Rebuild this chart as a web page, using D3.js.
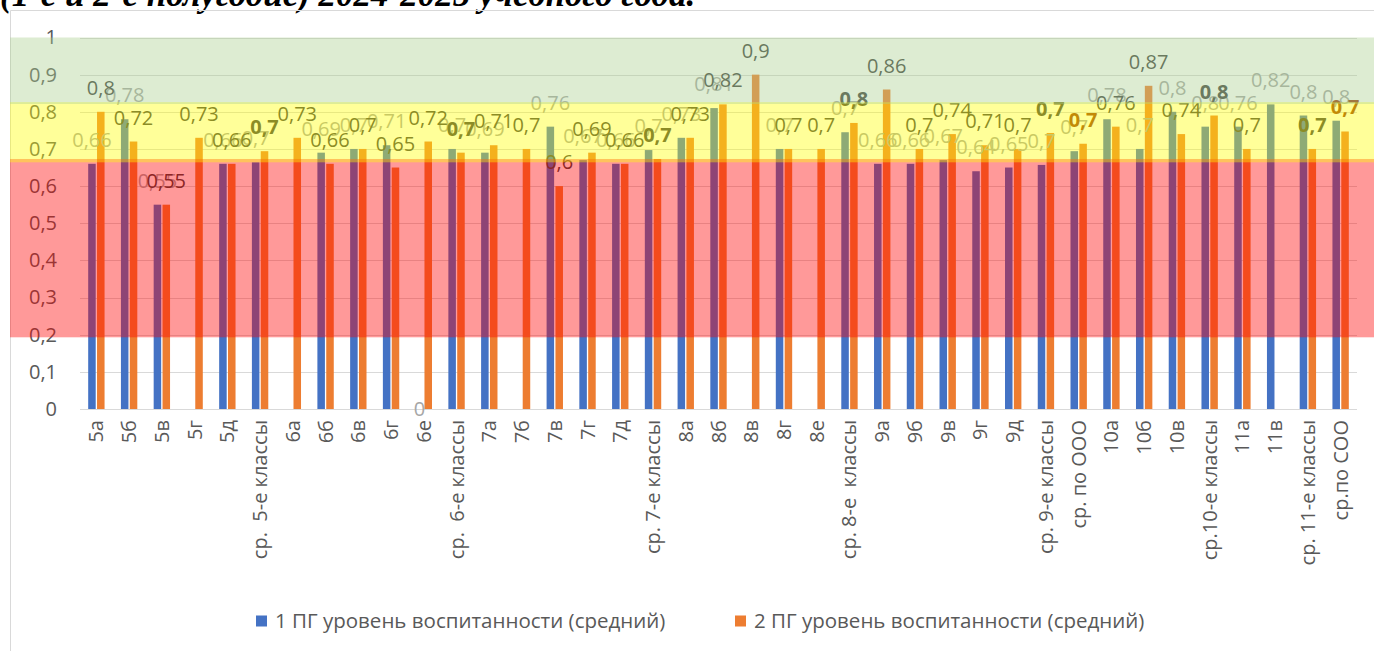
<!DOCTYPE html>
<html>
<head>
<meta charset="utf-8">
<script src="https://cdn.jsdelivr.net/npm/d3@7"></script>
<style>
  body { margin: 0; background: #fff; overflow: hidden; }
  svg { display: block; font-family: "Open Sans", sans-serif; }
  .xlab { white-space: pre; }
</style>
</head>
<body>
<div id="chart"></div>
<script>
// categories (classes and averages)
var classes = ["5а", "5б", "5в", "5г", "5д", "ср.  5-е классы",
  "6а", "6б", "6в", "6г", "6е", "ср.  6-е классы",
  "7а", "7б", "7в", "7г", "7д", "ср. 7-е классы",
  "8а", "8б", "8в", "8г", "8е", "ср. 8-е  классы",
  "9а", "9б", "9в", "9г", "9д", "ср. 9-е классы",
  "ср. по ООО",
  "10а", "10б", "10в", "ср.10-е классы",
  "11а", "11в", "ср. 11-е классы",
  "ср.по СОО"];

// 1 ПГ (first half-year), null = no bar
var pg1 = [0.66, 0.78, 0.55, null, 0.66, 0.664,
  null, 0.69, 0.70, 0.71, 0, 0.70,
  0.69, null, 0.76, 0.67, 0.66, 0.697,
  0.73, 0.81, null, 0.70, null, 0.745,
  0.66, 0.66, 0.67, 0.64, 0.65, 0.657,
  0.694,
  0.78, 0.70, 0.80, 0.76,
  0.76, 0.82, 0.79,
  0.776];

// 2 ПГ (second half-year)
var pg2 = [0.80, 0.72, 0.55, 0.73, 0.66, 0.694,
  0.73, 0.66, 0.70, 0.65, 0.72, 0.69,
  0.71, 0.70, 0.60, 0.69, 0.66, 0.673,
  0.73, 0.82, 0.90, 0.70, 0.70, 0.77,
  0.86, 0.70, 0.74, 0.71, 0.70, 0.743,
  0.714,
  0.76, 0.87, 0.74, 0.79,
  0.70, null, 0.70,
  0.747];

var seriesNames = ["1 ПГ уровень воспитанности (средний)", "2 ПГ уровень воспитанности (средний)"];
var seriesColors = ["#4472C4", "#ED7D31"];

var yTicks = [0, 0.1, 0.2, 0.3, 0.4, 0.5, 0.6, 0.7, 0.8, 0.9, 1];

// level zones laid over the chart
var zoneFrom = [0.193, 0.664, 0.821];
var zoneTo = [0.673, 0.826, 1.0];
var zoneColors = ["rgb(255,0,0)", "rgb(255,255,0)", "rgb(169,208,142)"];

var width = 1374, height = 651;
var margin = { top: 37.5, left: 80, right: 17, bottom: 242 };

var svg = d3.select("#chart").append("svg")
  .attr("width", width)
  .attr("height", height);

// caption of the document, cut by the page top
svg.append("text")
  .attr("x", 0)
  .attr("y", 6)
  .attr("font-family", "Liberation Serif, serif")
  .attr("font-style", "italic")
  .attr("font-weight", "bold")
  .attr("font-size", 35)
  .attr("fill", "#000")
  .text("(1-е и 2-е полугодие) 2024-2025 учебного года.");

// chart frame
svg.append("path")
  .attr("d", "M10.5," + height + "V10.5H" + width)
  .attr("fill", "none")
  .attr("stroke", "#d9d9d9");

var x = d3.scaleBand()
  .domain(classes)
  .range([margin.left, width - margin.right])
  .paddingInner(0.5)
  .paddingOuter(0.25);

var x1 = d3.scaleBand()
  .domain([0, 1])
  .range([0, x.bandwidth()])
  .paddingInner(0.15);

var y = d3.scaleLinear()
  .domain([0, 1])
  .range([height - margin.bottom, margin.top]);

// gridlines
svg.append("g")
  .selectAll("line")
  .data(yTicks.slice(1))
  .enter().append("line")
  .attr("x1", margin.left)
  .attr("x2", width - margin.right)
  .attr("y1", d => Math.round(y(d)) + 0.5)
  .attr("y2", d => Math.round(y(d)) + 0.5)
  .attr("stroke", "#d9d9d9");

// y axis labels
var yAxis = d3.axisLeft(y)
  .tickValues(yTicks)
  .tickSize(0)
  .tickPadding(23)
  .tickFormat(d => String(d).replace(".", ","));

svg.append("g")
  .attr("transform", "translate(" + margin.left + ",0)")
  .call(yAxis)
  .call(g => g.select(".domain").remove())
  .selectAll("text")
  .attr("font-family", "Open Sans, sans-serif")
  .attr("font-size", 20)
  .attr("fill", "#595959");

// x axis
var xAxis = d3.axisBottom(x).tickSize(0).tickPadding(0);
var gx = svg.append("g")
  .attr("transform", "translate(0," + y(0) + ")")
  .call(xAxis);
gx.select(".domain")
  .attr("stroke", "#d9d9d9")
  .attr("d", "M" + margin.left + ",0.5H" + (width - margin.right));
gx.selectAll("text")
  .attr("class", "xlab")
  .attr("font-family", "Open Sans, sans-serif")
  .attr("font-size", 20)
  .attr("fill", "#595959")
  .attr("text-anchor", "end")
  .attr("dy", "0.35em")
  .attr("transform", "translate(0,11) rotate(-90)");

// bars
var rows = classes.map((c, i) => ({ cat: c, vals: [pg1[i], pg2[i]], avg: c.indexOf("ср") === 0 }));

var groups = svg.append("g")
  .selectAll("g")
  .data(rows)
  .enter().append("g")
  .attr("transform", d => "translate(" + x(d.cat) + ",0)");

groups.selectAll("rect")
  .data(d => d.vals.map((v, s) => ({ v: v, s: s })).filter(e => e.v !== null))
  .enter().append("rect")
  .attr("x", d => x1(d.s))
  .attr("width", x1.bandwidth())
  .attr("y", d => y(d.v))
  .attr("height", d => y(0) - y(d.v))
  .attr("fill", d => seriesColors[d.s]);

// data labels
var fmtShort = d3.format(".1~f"), fmtLong = d3.format(".2~f");
var labs = [];
rows.forEach(r => {
  r.vals.forEach((v, s) => {
    if (v === null) return;
    labs.push({ cat: r.cat, s: s, v: v, avg: r.avg,
      txt: (r.avg ? fmtShort(v) : fmtLong(v)).replace(".", ",") });
  });
});
// blue labels first, orange on top
labs.sort((a, b) => a.s - b.s);

svg.append("g")
  .selectAll("text")
  .data(labs)
  .enter().append("text")
  .attr("x", d => x(d.cat) + x1(d.s) + x1.bandwidth() / 2)
  .attr("y", d => d.v === 0 ? y(0) + 7 : y(d.v) - 17)
  .attr("text-anchor", "middle")
  .attr("font-size", 20)
  .attr("font-weight", d => d.avg && d.s === 1 ? "bold" : "normal")
  .attr("fill", d => {
    if (d.s === 0) return "#a6a6a6";
    if (d.cat === "ср. по ООО" || d.cat === "ср.по СОО") return "#9a3d0c";
    return "#404040";
  })
  .text(d => d.txt);

// zones over everything
svg.append("g")
  .selectAll("rect")
  .data(zoneFrom.map((f, i) => ({ f: f, t: zoneTo[i], c: zoneColors[i] })))
  .enter().append("rect")
  .attr("x", 10)
  .attr("width", width - 10)
  .attr("y", d => y(d.t))
  .attr("height", d => y(d.f) - y(d.t))
  .attr("fill", d => d.c)
  .attr("fill-opacity", 0.4);

// legend
var legX = [256, 735];
var leg = svg.append("g")
  .selectAll("g")
  .data(seriesNames)
  .enter().append("g")
  .attr("transform", (d, i) => "translate(" + legX[i] + ",621)");
leg.append("rect")
  .attr("x", 0).attr("y", -5.5)
  .attr("width", 11).attr("height", 11)
  .attr("fill", (d, i) => seriesColors[i]);
leg.append("text")
  .attr("x", 19)
  .attr("dy", "0.35em")
  .attr("font-size", 20.5)
  .attr("fill", "#595959")
  .text(d => d);
</script>
</body>
</html>
